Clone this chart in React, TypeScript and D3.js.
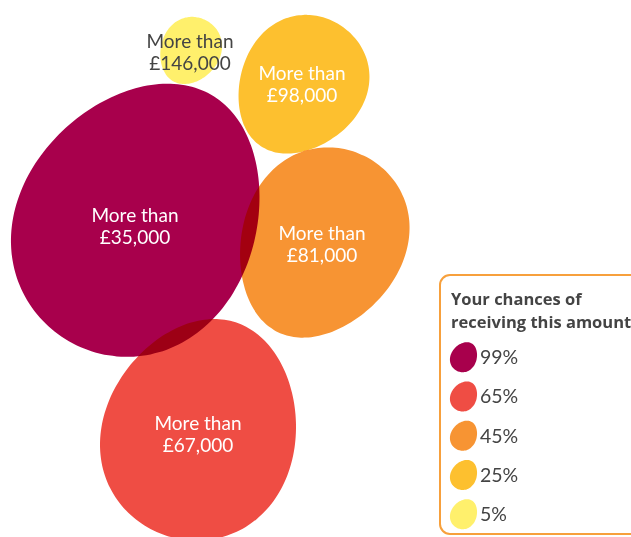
import React from 'react';
import * as d3 from 'd3';

// ---- data ----
const amounts = ['£35,000', '£67,000', '£81,000', '£98,000', '£146,000'];
const chances = [99, 65, 45, 25, 5];
const legendLabels = ['99%', '65%', '45%', '25%', '5%'];
const legendTitle = ['Your chances of', 'receiving this amount'];
const prefix = 'More than';

// ---- styles / layout ----
const colors = ['#a8004c', '#ef4d44', '#f79433', '#fdc02f', '#fff06c'];
const textColors = ['#ffffff', '#ffffff', '#ffffff', '#ffffff', '#444444'];
const layout = [
  { cx: 140, cy: 218, grow: 0, aspect: 1.1, rot: -60, egg: -0.1, tx: 135, ty: 220 },
  { cx: 201, cy: 429, grow: -1, aspect: 1.08, rot: -72, egg: -0.1, tx: 198, ty: 428 },
  { cx: 321, cy: 244, grow: 2, aspect: 1.1, rot: -64, egg: 0.12, tx: 322, ty: 238 },
  { cx: 301, cy: 86, grow: 2, aspect: 1.08, rot: -56, egg: 0.12, tx: 302, ty: 78 },
  { cx: 190, cy: 51, grow: 3, aspect: 1.08, rot: -62, egg: 0.1, tx: 190, ty: 46 },
];

const FONT = 'Lato, "Open Sans", "DejaVu Sans", sans-serif';

const rScale = d3.scaleSqrt().domain([0, 100]).range([0, 130]);

function eggPath(r: number, aspect: number, egg: number) {
  const a = r * aspect;
  const b = r / aspect;
  const pts: [number, number][] = d3.range(0, 96).map((i) => {
    const t = (i / 96) * Math.PI * 2;
    return [a * Math.cos(t), b * Math.sin(t) * (1 + egg * Math.cos(t))];
  });
  return d3.line().curve(d3.curveCardinalClosed)(pts) as string;
}

export default function App() {
  const W = 631, H = 537;
  const legendX = 440, legendY = 275;
  const itemY = d3.scaleLinear().domain([0, 4]).range([357, 514]);
  return (
    <svg width={W} height={H} style={{ position: 'absolute', left: 0, top: 0, background: '#fff' }}>
      <g>
        {chances.map((c, i) => {
          const L = layout[i];
          return (
            <path
              key={i}
              d={eggPath(rScale(c) + L.grow, L.aspect, L.egg)}
              transform={`translate(${L.cx},${L.cy}) rotate(${L.rot})`}
              fill={colors[i]}
              style={{ mixBlendMode: 'multiply' }}
            />
          );
        })}
      </g>
      <g fontFamily={FONT} fontSize={19} textAnchor="middle">
        {chances.map((c, i) => {
          const L = layout[i];
          return (
            <text key={i} fill={textColors[i]}>
              <tspan x={L.tx} y={L.ty + 2}>{prefix}</tspan>
              <tspan x={L.tx} y={L.ty + 24}>{amounts[i]}</tspan>
            </text>
          );
        })}
      </g>
      <g>
        <rect x={legendX} y={legendY} width={220} height={259} rx={10} fill="#fff" stroke="#f7a03c" strokeWidth={2} />
        <text fontFamily={'"Open Sans", sans-serif'} fontWeight={700} fontSize={16.5} fill="#444">
          <tspan x={451} y={305}>{legendTitle[0]}</tspan>
          <tspan x={451} y={328}>{legendTitle[1]}</tspan>
        </text>
        {legendLabels.map((lab, i) => (
          <g key={i}>
            <path
              d={eggPath(14.2, 1.1, -0.1)}
              transform={`translate(464,${itemY(i)}) rotate(-62)`}
              fill={colors[i]}
            />
            <text x={480} y={itemY(i) + 7} fontFamily={FONT} fontSize={19.5} fill="#444">{lab}</text>
          </g>
        ))}
      </g>
    </svg>
  );
}
